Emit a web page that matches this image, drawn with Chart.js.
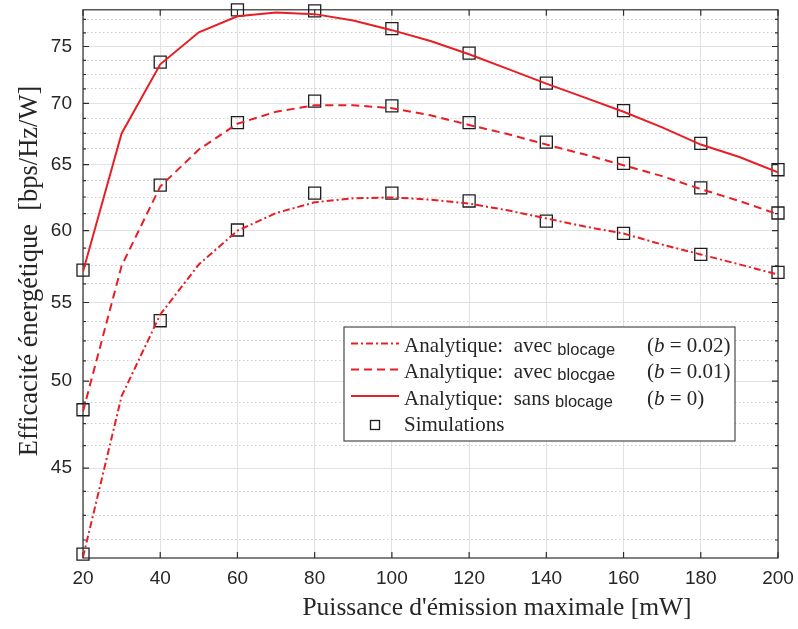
<!DOCTYPE html>
<html>
<head>
<meta charset="utf-8">
<script src="https://cdn.jsdelivr.net/npm/chart.js@4.4.1/dist/chart.umd.min.js"></script>
<style>
  html, body { margin: 0; padding: 0; background: #fff; }
  canvas { display: block; }
</style>
</head>
<body>
<canvas id="effChart" width="798" height="629"></canvas>
<script>
// analytic curves, one point every 10 mW
const powerAnalytic = [20, 30, 40, 50, 60, 70, 80, 90, 100, 110, 120, 130, 140, 150, 160, 170, 180, 190, 200];
const effNoBlocking = [57.1, 67.5, 73.4, 76.3, 77.8, 78.15, 78.0, 77.4, 76.5, 75.5, 74.3, 73.0, 71.7, 70.5, 69.3, 68.0, 66.6, 65.6, 64.4];
const effBlocking001 = [48.2, 57.5, 63.3, 66.2, 68.3, 69.3, 69.85, 69.85, 69.6, 69.0, 68.2, 67.45, 66.6, 65.8, 64.95, 64.1, 63.1, 62.2, 61.2];
const effBlocking002 = [40.4, 49.1, 54.2, 57.6, 60.0, 61.3, 62.1, 62.4, 62.47, 62.3, 62.0, 61.5, 60.9, 60.3, 59.8, 59.0, 58.3, 57.6, 56.9];

// simulation points, every 20 mW
const powerSim = [20, 40, 60, 80, 100, 120, 140, 160, 180, 200];
const simNoBlocking = [57.2, 73.6, 78.4, 78.3, 76.65, 74.4, 71.75, 69.4, 66.7, 64.6];
const simBlocking001 = [48.3, 63.4, 68.4, 70.2, 69.8, 68.4, 66.8, 65.1, 63.2, 61.3];
const simBlocking002 = [40.55, 53.8, 60.05, 62.8, 62.8, 62.2, 60.7, 59.8, 58.3, 57.05];

const xTicks = [20, 40, 60, 80, 100, 120, 140, 160, 180, 200];
const yMajorTicks = [45, 50, 55, 60, 65, 70, 75];
const yMinorTicks = [41.25, 42.5, 43.75, 46.25, 47.5, 48.75, 51.25, 52.5, 53.75, 56.25, 57.5, 58.75,
  61.25, 62.5, 63.75, 66.25, 67.5, 68.75, 71.25, 72.5, 73.75, 76.25, 77.5];

const RED = '#e81e25';
const SERIF = '"Liberation Serif", "Times New Roman", serif';
const SANS = '"Liberation Sans", Arial, sans-serif';

function pts(xs, ys) {
  return xs.map((x, i) => ({ x: x, y: ys[i] }));
}

function curve(label, ys, dash) {
  return {
    label: label,
    data: pts(powerAnalytic, ys),
    borderColor: RED,
    borderWidth: 2,
    borderDash: dash,
    pointRadius: 0,
    tension: 0,
    fill: false
  };
}

function sims(ys) {
  return {
    label: 'Simulations',
    data: pts(powerSim, ys),
    showLine: false,
    pointStyle: 'rect',
    pointRadius: 8.5,
    pointBorderWidth: 1.3,
    pointBorderColor: '#1e1e1e',
    pointBackgroundColor: 'rgba(0,0,0,0)',
    clip: false
  };
}

function drawRuns(ctx, x, y, runs) {
  runs.forEach(r => {
    ctx.font = r.font;
    ctx.fillText(r.text, x, y + (r.dy || 0));
    x += ctx.measureText(r.text).width;
  });
}

const decorations = {
  id: 'decorations',
  beforeDatasetsDraw(chart) {
    const { ctx, chartArea: a, scales: { x, y } } = chart;
    ctx.save();
    ctx.strokeStyle = '#2e2e2e';
    ctx.lineWidth = 1.2;
    ctx.setLineDash([]);
    ctx.strokeRect(a.left, a.top, a.right - a.left, a.bottom - a.top);
    ctx.beginPath();
    xTicks.forEach(v => {
      const px = x.getPixelForValue(v);
      ctx.moveTo(px, a.bottom); ctx.lineTo(px, a.bottom - 6);
      ctx.moveTo(px, a.top); ctx.lineTo(px, a.top + 6);
    });
    yMajorTicks.forEach(v => {
      const py = y.getPixelForValue(v);
      ctx.moveTo(a.left, py); ctx.lineTo(a.left + 6, py);
      ctx.moveTo(a.right, py); ctx.lineTo(a.right - 6, py);
    });
    yMinorTicks.forEach(v => {
      const py = y.getPixelForValue(v);
      ctx.moveTo(a.left, py); ctx.lineTo(a.left + 3, py);
      ctx.moveTo(a.right, py); ctx.lineTo(a.right - 3, py);
    });
    ctx.stroke();
    ctx.restore();
  },
  afterDraw(chart) {
    const { ctx } = chart;
    ctx.save();
    ctx.fillStyle = '#262626';
    ctx.textBaseline = 'alphabetic';

    // axis titles
    ctx.textAlign = 'center';
    ctx.font = '25.5px ' + SERIF;
    ctx.fillText("Puissance d'émission maximale [mW]", 497, 615);
    ctx.save();
    ctx.translate(37, 271);
    ctx.rotate(-Math.PI / 2);
    ctx.font = '26.5px ' + SERIF;
    ctx.fillText('Efficacité énergétique  [bps/Hz/W]', 0, 0);
    ctx.restore();

    // legend box
    const box = { left: 344, top: 327, right: 735, bottom: 441 };
    ctx.fillStyle = '#fff';
    ctx.fillRect(box.left, box.top, box.right - box.left, box.bottom - box.top);
    ctx.strokeStyle = '#4a4a4a';
    ctx.lineWidth = 1.2;
    ctx.strokeRect(box.left, box.top, box.right - box.left, box.bottom - box.top);

    const ds = chart.data.datasets;
    const rows = [
      { d: ds[0], y: 343.5, word: 'avec ', sub: 'blocage', dy: 3, b: '0.02' },
      { d: ds[1], y: 369.5, word: 'avec ', sub: 'blocgae', dy: 2, b: '0.01' },
      { d: ds[2], y: 396, word: 'sans ', sub: 'blocage', dy: 2, b: '0' }
    ];
    const serif = '21px ' + SERIF;
    ctx.textAlign = 'left';
    rows.forEach(r => {
      ctx.strokeStyle = r.d.borderColor;
      ctx.lineWidth = 2;
      ctx.setLineDash(r.d.borderDash || []);
      ctx.beginPath();
      ctx.moveTo(351, r.y);
      ctx.lineTo(399, r.y);
      ctx.stroke();
      ctx.setLineDash([]);
      ctx.fillStyle = '#262626';
      const base = r.y + 8.5;
      drawRuns(ctx, 404, base, [
        { text: 'Analytique:  ' + r.word, font: serif },
        { text: r.sub, font: '16.5px ' + SANS, dy: r.dy }
      ]);
      drawRuns(ctx, 647, base, [
        { text: '(', font: serif },
        { text: 'b', font: 'italic ' + serif },
        { text: ' = ' + r.b + ')', font: serif }
      ]);
    });
    // simulation marker
    ctx.strokeStyle = '#1e1e1e';
    ctx.lineWidth = 1.3;
    ctx.strokeRect(370.5, 420.5, 9, 9);
    ctx.fillStyle = '#262626';
    drawRuns(ctx, 404, 430.5, [{ text: 'Simulations', font: serif }]);
    ctx.restore();
  }
};

const isMajor = v => yMajorTicks.includes(v);

new Chart(document.getElementById('effChart').getContext('2d'), {
  type: 'line',
  data: {
    datasets: [
      curve('Analytique: avec blocage (b = 0.02)', effBlocking002, [7, 3, 2, 3]),
      curve('Analytique: avec blocgae (b = 0.01)', effBlocking001, [8, 5]),
      curve('Analytique: sans blocage (b = 0)', effNoBlocking, []),
      sims(simBlocking002),
      sims(simBlocking001),
      sims(simNoBlocking)
    ]
  },
  options: {
    responsive: false,
    animation: false,
    layout: { padding: { left: 0, right: 20, top: 9, bottom: 0 } },
    plugins: {
      legend: { display: false },
      tooltip: { enabled: false }
    },
    scales: {
      x: {
        type: 'linear',
        min: 20,
        max: 200,
        afterBuildTicks: scale => { scale.ticks = xTicks.map(v => ({ value: v })); },
        afterFit: scale => {
          scale.height = 71;
          scale.paddingLeft = 0;
          scale.paddingRight = 0;
        },
        ticks: {
          padding: 9,
          color: '#262626',
          font: { family: SANS, size: 19 },
          maxRotation: 0,
          autoSkip: false
        },
        grid: { color: '#e2e2e2', lineWidth: 1, drawTicks: false },
        border: { display: false }
      },
      y: {
        type: 'logarithmic',
        min: 40.36,
        max: 78.41,
        afterBuildTicks: scale => {
          scale.ticks = yMajorTicks.concat(yMinorTicks).sort((a, b) => a - b).map(v => ({ value: v }));
        },
        afterFit: scale => {
          scale.width = 83;
          scale.paddingTop = 0;
          scale.paddingBottom = 0;
        },
        ticks: {
          padding: 11,
          color: '#262626',
          font: { family: SANS, size: 19 },
          autoSkip: false,
          callback: v => (isMajor(v) ? String(v) : '')
        },
        grid: {
          drawTicks: false,
          color: c => (c.tick && !isMajor(c.tick.value) ? '#cdcdcd' : '#e2e2e2'),
          lineWidth: 1
        },
        border: {
          display: false,
          dash: c => (c.tick && !isMajor(c.tick.value) ? [1.5, 2.5] : [])
        }
      }
    }
  },
  plugins: [decorations]
});
</script>
</body>
</html>
